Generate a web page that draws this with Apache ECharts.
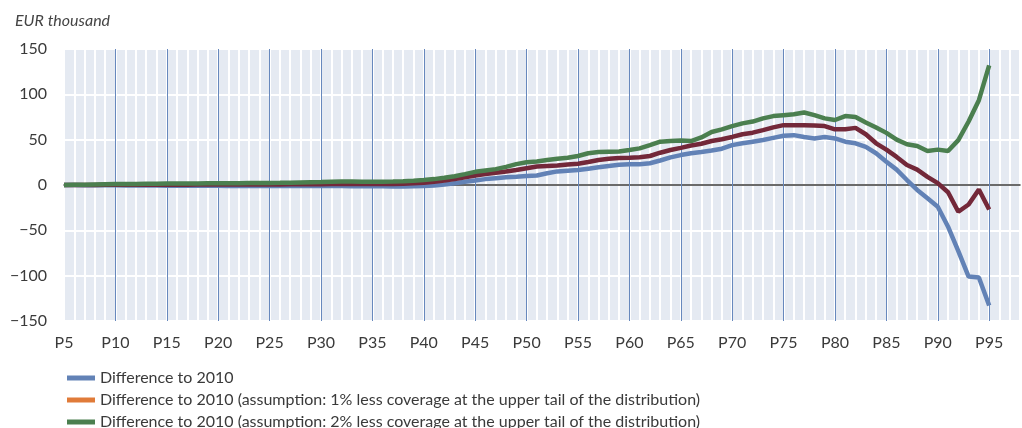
<!DOCTYPE html>
<html>
<head>
<meta charset="utf-8">
<title>Difference to 2010 by percentile</title>
<script src="https://cdn.jsdelivr.net/npm/echarts@6/dist/echarts.min.js"></script>
<style>
  html, body { margin: 0; padding: 0; background: #fff; }
  #chart { width: 1022px; height: 428px; }
</style>
</head>
<body>
<div id="chart"></div>
<script>
// percentiles on the x axis (axis runs a bit past P95)
var percentiles = []
for (var p = 5; p <= 98; p++) percentiles.push('P' + p)

var seriesNames = [
  'Difference to 2010',
  'Difference to 2010 (assumption: 1% less coverage at the upper tail of the distribution)',
  'Difference to 2010 (assumption: 2% less coverage at the upper tail of the distribution)'
]

// EUR thousand, P5 ... P95
var diffBase = [
  0, 0, -0.2, -0.3, -0.3, -0.4, -0.5, -0.5, -0.6, -0.6,
  -0.7, -0.7, -0.8, -0.8, -0.9, -0.9, -1, -1, -1, -1,
  -1, -1, -1, -1, -1, -1, -1.1, -1.2, -1.4, -1.5,
  -1.5, -1.5, -1.6, -1.6, -1.5, -1.2, -0.5, 0.5, 2, 3.5,
  5, 6.5, 7.5, 8.5, 9.2, 10, 10.5, 13, 15, 15.8,
  16.5, 18, 19.5, 21, 22.4, 22.8, 22.8, 24, 27, 30.5,
  33, 35, 36.4, 38, 40, 44, 46, 47.8, 49.6, 52,
  54.4, 55, 53, 51.4, 53, 51.4, 47.8, 46, 42, 35,
  25.6, 17, 5.5, -5.5, -14.6, -24, -46, -73, -101, -102,
  -133
]

var diffLess1 = [
  0, 0, 0.1, 0.1, 0.2, 0.2, 0.3, 0.3, 0.3, 0.4,
  0.4, 0.4, 0.4, 0.5, 0.5, 0.5, 0.5, 0.5, 0.5, 0.6,
  0.6, 0.6, 0.7, 0.7, 0.8, 0.9, 1, 1.1, 1.1, 1,
  1, 1, 1.2, 1.5, 2, 2.5, 3.5, 5, 6.5, 8.5,
  10.5, 12, 13.5, 15, 16.5, 18.5, 20.5, 21, 21.5, 22.5,
  23.5, 25.4, 27.6, 29, 29.8, 30.1, 30.5, 32, 35.6, 38.6,
  41, 43.5, 45.5, 48.5, 50.4, 53, 56, 57.7, 60.6, 63.6,
  66, 66, 66, 65.5, 65, 61.4, 61.4, 63, 56, 46,
  39, 31, 22, 17, 9, 2, -8, -29.5, -21.5, -5,
  -27
]

var diffLess2 = [
  0, 0.2, 0.4, 0.6, 0.8, 1, 1.1, 1.2, 1.4, 1.5,
  1.6, 1.6, 1.6, 1.7, 1.8, 1.9, 2, 2, 2.1, 2.2,
  2.3, 2.4, 2.6, 2.8, 3, 3.2, 3.5, 3.8, 3.8, 3.6,
  3.5, 3.5, 3.8, 4.2, 4.8, 5.5, 6.5, 8, 9.7, 12,
  14.5, 16, 17.5, 20, 23, 25, 26, 27.5, 29, 30,
  32, 35, 36.4, 36.7, 37, 38.6, 40.4, 44, 47.8, 48.5,
  49, 48.5, 52.5, 58.5, 61.4, 65, 68, 70, 73.5, 76,
  77, 78, 80, 77, 73.5, 71.7, 76, 75, 69, 63.5,
  57.5, 50, 45, 43, 37.5, 39, 37.5, 49.5, 70, 93.5,
  132
]

var lineColors = ['#6282b6', '#732839', '#4b7f4f']
var legendColors = ['#6282b6', '#e07b39', '#4b7f4f']
var textFont = 'Lato'

var chart = echarts.init(document.getElementById('chart'))

// one legend per row so the list doesn't wrap into columns
var legends = seriesNames.map(function (n, i) {
  return {
    left: 62,
    top: 365 + i * 22,
    icon: 'rect',
    itemWidth: 28,
    itemHeight: 5,
    textStyle: { fontFamily: textFont, fontSize: 16, color: '#3a3a3a' },
    data: [{ name: n, itemStyle: { color: legendColors[i] } }]
  }
})

var option = {
  animation: false,
  title: {
    text: 'EUR thousand',
    left: 10,
    top: 8,
    textStyle: {
      fontFamily: textFont,
      fontStyle: 'italic',
      fontWeight: 'normal',
      fontSize: 16,
      color: '#444'
    }
  },
  legend: legends,
  grid: {
    left: 64,
    right: 2,
    top: 49,
    bottom: 107,
    show: true,
    backgroundColor: '#e5eaf2',
    borderWidth: 0
  },
  xAxis: [
    {
      type: 'category',
      data: percentiles,
      boundaryGap: false,
      axisLine: { onZero: true, lineStyle: { color: '#3a3a3a', width: 1.5 } },
      axisTick: { show: false },
      axisLabel: {
        interval: 4,
        margin: 14,
        fontFamily: textFont,
        fontSize: 16,
        color: '#3a3a3a'
      },
      splitLine: {
        show: true,
        interval: 0,
        lineStyle: { color: '#ffffff', width: 2 }
      }
    },
    {
      // darker line every 5 percentiles
      type: 'category',
      data: percentiles,
      boundaryGap: false,
      z: 1,
      axisLine: { show: false },
      axisTick: { show: false },
      axisLabel: { show: false },
      splitLine: {
        show: true,
        showMinLine: false,
        interval: 4,
        lineStyle: { color: '#6788bd', width: 1 }
      }
    }
  ],
  yAxis: {
    type: 'value',
    min: -150,
    max: 150,
    interval: 50,
    axisLine: { show: false },
    axisTick: { show: false },
    axisLabel: {
      margin: 17,
      fontFamily: textFont,
      fontSize: 16,
      color: '#3a3a3a',
      formatter: function (v) { return v < 0 ? '\u2212' + Math.abs(v) : String(v) }
    },
    splitLine: { lineStyle: { color: '#ffffff', width: 2 } }
  },
  series: [diffBase, diffLess1, diffLess2].map(function (d, i) {
    return {
      name: seriesNames[i],
      type: 'line',
      xAxisIndex: 0,
      data: d,
      symbol: 'none',
      lineStyle: { color: lineColors[i], width: 4.5 },
      itemStyle: { color: lineColors[i] }
    }
  })
}

chart.setOption(option)
</script>
</body>
</html>
